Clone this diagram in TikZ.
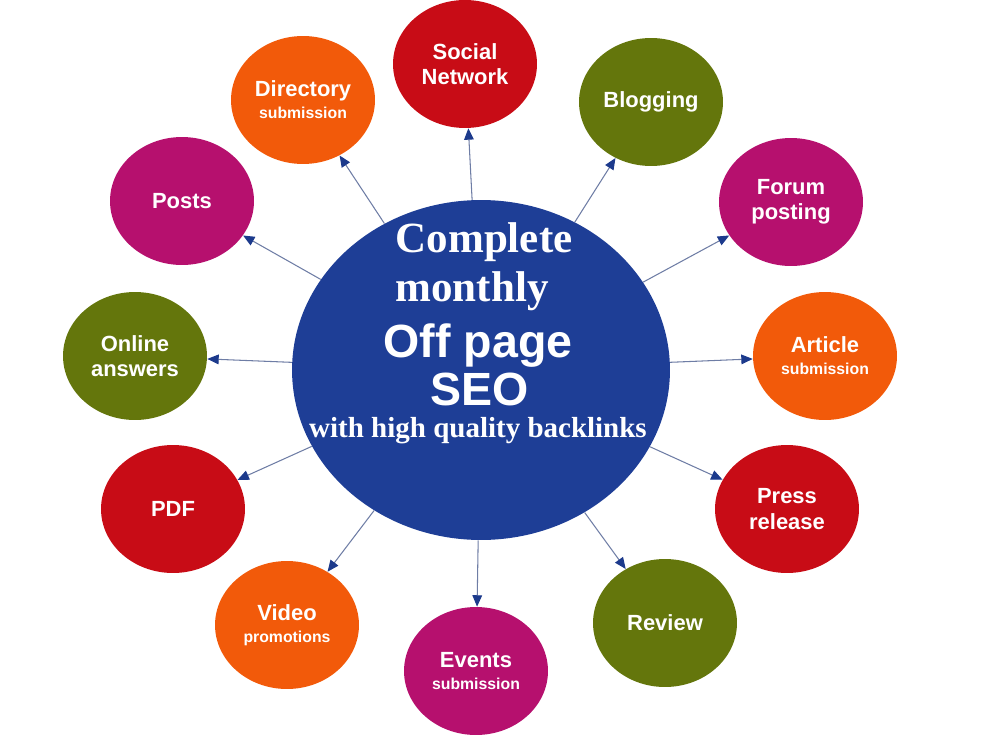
\documentclass[tikz,border=0pt]{standalone}
\usepackage{fontspec}
\setmainfont{Liberation Serif}
\newfontfamily\labelsans{Liberation Sans}
\usepackage{xcolor}
\definecolor{seoblue}{RGB}{30,62,150}
\definecolor{seored}{RGB}{200,12,22}
\definecolor{seogreen}{RGB}{100,118,12}
\definecolor{seopink}{RGB}{182,16,110}
\definecolor{seoorange}{RGB}{242,90,10}
\definecolor{seoarrow}{RGB}{28,58,140}
\definecolor{seoline}{RGB}{110,125,165}
\usetikzlibrary{arrows.meta, shapes.geometric}

\newcommand{\subtxt}[1]{{\fontsize{9}{11}\selectfont #1}}

\tikzset{
  topic/.style={ellipse, minimum width=2.88cm, minimum height=2.56cm, inner sep=0pt,
    text=white, align=center, font=\labelsans\bfseries\fontsize{12.5}{14.5}\selectfont},
  hub/.style={ellipse, fill=seoblue, minimum width=7.56cm, minimum height=6.8cm, inner sep=0pt},
  link/.style={draw=seoline, line width=0.6pt, -{Triangle[length=6.5pt, width=5.5pt, color=seoarrow]}},
  serifline/.style={text=white, anchor=base, inner sep=0pt, font=\bfseries\fontsize{24.5}{26}\selectfont},
  sansline/.style={text=white, anchor=base, inner sep=0pt, font=\labelsans\bfseries\fontsize{26.5}{28}\selectfont}
}

\begin{document}
\begin{tikzpicture}[x=0.02cm, y=-0.02cm]
  \useasboundingbox (0,0) rectangle (1000,750);

  % Centre
  \node[hub] (seo) at (481,370) {};
  \node[serifline] (complete) at (484,252) {Complete};
  \node[serifline] (monthly) at (472,301) {monthly};
  \node[sansline] (offpage) at (478,357) {Off page};
  \node[sansline] (seotext) at (480,405) {SEO};
  \node[text=white, anchor=base, inner sep=0pt, font=\bfseries\fontsize{16.5}{18}\selectfont] (backlinks) at (478,437) {with high quality backlinks};

  % Top half
  \node[topic, fill=seored] (social) at (465,64) {Social\\Network};
  \node[topic, fill=seogreen] (blogging) at (651,102) {Blogging};
  \node[topic, fill=seopink] (forum) at (791,202) {Forum\\posting};
  \node[topic, fill=seoorange] (directory) at (303,100) {Directory\\[-2pt]\subtxt{submission}};
  \node[topic, fill=seopink] (posts) at (182,201) {Posts};

  % Middle row
  \node[topic, fill=seoorange] (article) at (825,356) {Article\\[-2pt]\subtxt{submission}};
  \node[topic, fill=seogreen] (online) at (135,356) {Online\\answers};

  % Bottom half
  \node[topic, fill=seored] (press) at (787,509) {Press\\release};
  \node[topic, fill=seogreen] (review) at (665,623) {Review};
  \node[topic, fill=seopink] (events) at (476,671) {Events\\[-2pt]\subtxt{submission}};
  \node[topic, fill=seoorange] (video) at (287,625) {Video\\[-2pt]\subtxt{promotions}};
  \node[topic, fill=seored] (pdf) at (173,509) {PDF};

  % Arrows
  \foreach \t in {social, blogging, forum, article, press, review, events, video, pdf, online, posts, directory}
    \draw[link] (seo) -- (\t);
\end{tikzpicture}
\end{document}
